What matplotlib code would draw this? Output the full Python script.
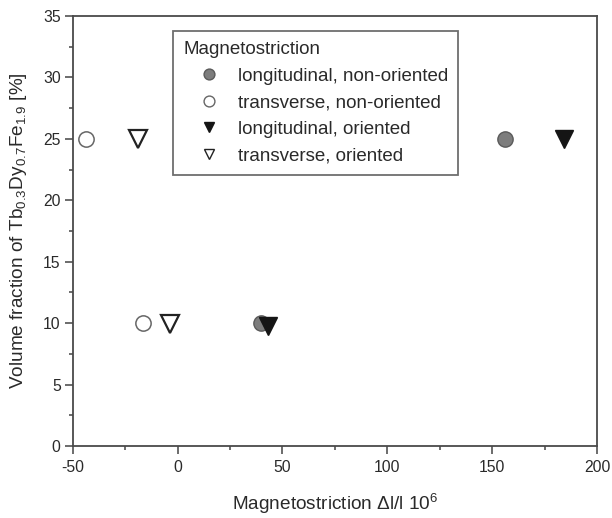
import matplotlib
matplotlib.use("Agg")
import matplotlib.pyplot as plt
from matplotlib.ticker import MultipleLocator

plt.rcParams['font.family'] = ['Liberation Sans', 'DejaVu Sans']
plt.rcParams['mathtext.fontset'] = 'custom'
plt.rcParams['mathtext.rm'] = 'Liberation Sans'
plt.rcParams['mathtext.it'] = 'Liberation Sans'
plt.rcParams['axes.unicode_minus'] = False

# data
long_nonor_x = [155.9, 39.8]
long_nonor_y = [25, 10]
trans_nonor_x = [-43.7, -16.6]
trans_nonor_y = [25, 10]
long_or_x = [184.2, 43.3]
long_or_y = [25, 9.8]
trans_or_x = [-18.9, -3.6]
trans_or_y = [25, 9.9]

W, H = 612, 518
fig = plt.figure(figsize=(W / 100, H / 100), dpi=100)
left, right, top, bottom = 72.7, 597.0, 16.0, 446.0
ax = fig.add_axes([left / W, 1 - bottom / H, (right - left) / W, (bottom - top) / H])

txt = '#2a2a2a'
ax.plot(long_nonor_x, long_nonor_y, 'o', ms=11, mfc='#7d7d7d', mec='#5a5a5a', mew=1,
        ls='none', label='longitudinal, non-oriented', zorder=3)
ax.plot(trans_nonor_x, trans_nonor_y, 'o', ms=11, mfc='white', mec='#666666', mew=1.1,
        ls='none', label='transverse, non-oriented', zorder=3)
ax.plot(long_or_x, long_or_y, 'v', ms=13, mfc='#151515', mec='#151515', mew=1,
        ls='none', label='longitudinal, oriented', zorder=4)
ax.plot(trans_or_x, trans_or_y, 'v', ms=12.5, mfc='white', mec='#222222', mew=1.6,
        ls='none', label='transverse, oriented', zorder=3)

ax.set_xlim(-50, 200)
ax.set_ylim(0, 35)
ax.xaxis.set_major_locator(MultipleLocator(50))
ax.xaxis.set_minor_locator(MultipleLocator(25))
ax.yaxis.set_major_locator(MultipleLocator(5))
ax.yaxis.set_minor_locator(MultipleLocator(2.5))
ax.tick_params(which='both', direction='out', top=False, right=False, colors='#444444',
               labelcolor=txt, labelsize=11.3, width=1.1)
ax.tick_params(which='major', length=5.8)
ax.tick_params(which='minor', length=3.2)
ax.tick_params(axis='x', which='major', pad=4.2)
ax.tick_params(axis='y', which='major', pad=2.9)
for s in ax.spines.values():
    s.set_color('#4a4a4a')
    s.set_linewidth(1.3)

ax.set_xlabel(r'Magnetostriction $\Delta$l/l 10$^6$', fontsize=13.7, color=txt, labelpad=12)
ax.set_ylabel(r'Volume fraction of Tb$_{0.3}$Dy$_{0.7}$Fe$_{1.9}$ [%]', fontsize=13.7,
              color=txt, labelpad=10)

leg = ax.legend(title='Magnetostriction', loc='upper left',
                bbox_to_anchor=(172.7 / W, 1 - 31 / H), bbox_transform=fig.transFigure,
                borderaxespad=0, fontsize=13.5, title_fontsize=13.5, frameon=True,
                fancybox=False, edgecolor='#4a4a4a', handletextpad=0.12,
                borderpad=0.55, labelspacing=0.5, handlelength=2.8)
leg.get_frame().set_linewidth(1.3)
leg._legend_box.align = 'left'
for t in leg.get_texts():
    t.set_color(txt)
leg.get_title().set_color(txt)
for h in leg.legend_handles:
    h.set_markersize(7.8)
    h.set_markeredgewidth(1.0)

fig.savefig('out.png', dpi=100)
